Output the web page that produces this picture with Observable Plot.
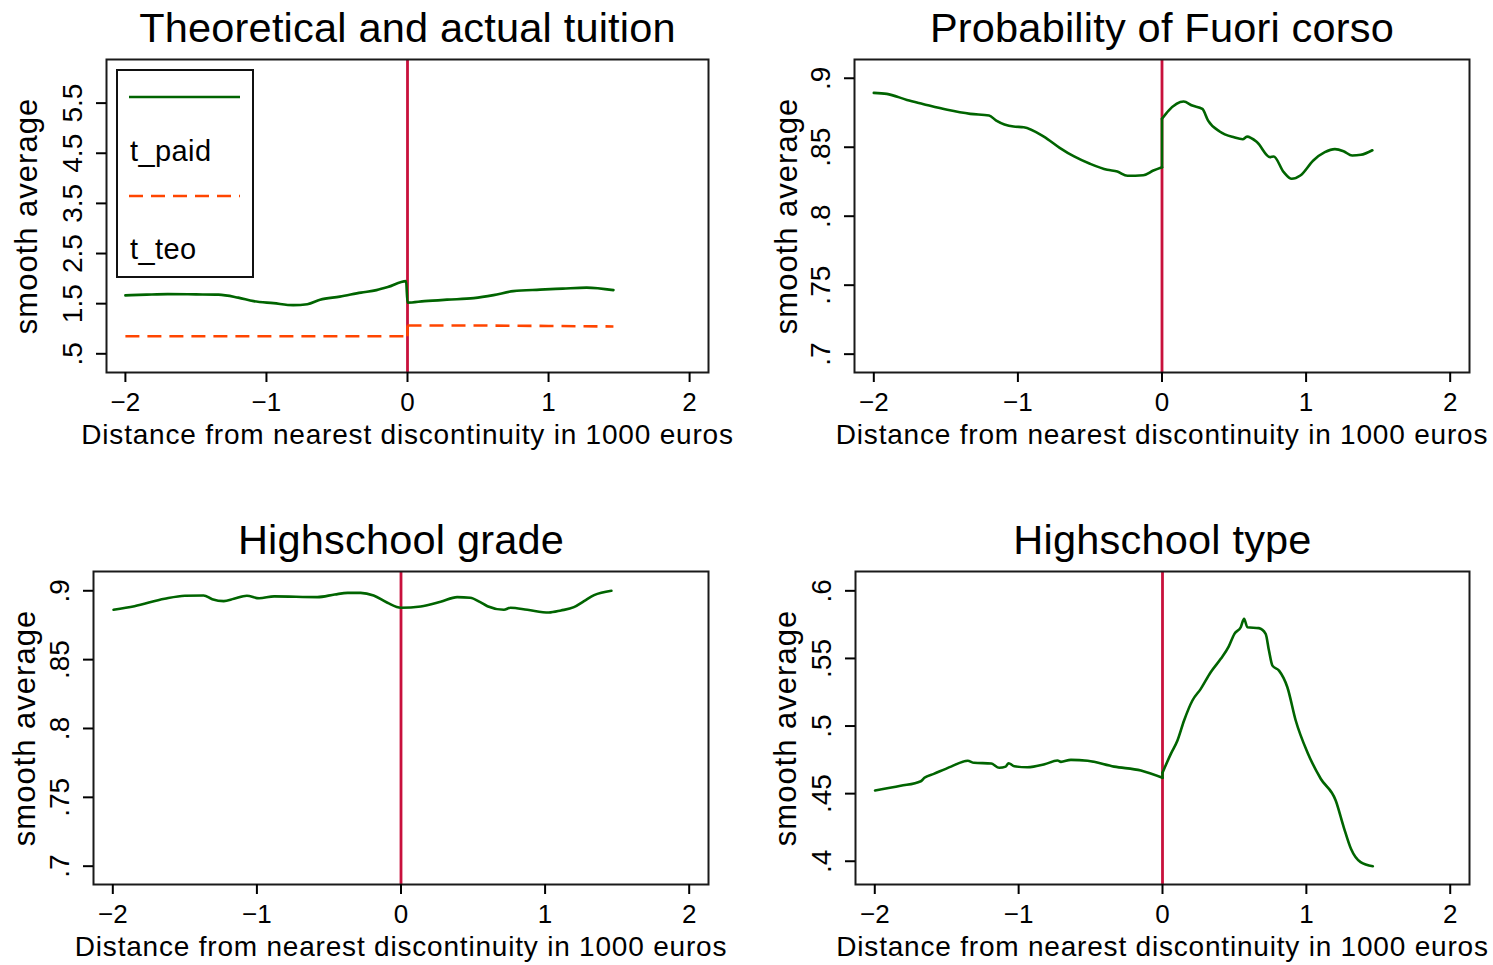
<!DOCTYPE html>
<html><head><meta charset="utf-8">
<script src="https://cdn.jsdelivr.net/npm/d3@7"></script>
<script src="https://cdn.jsdelivr.net/npm/@observablehq/plot@0.6"></script>
<style>
body{margin:0;background:#fff;font-family:"Liberation Sans",Arial,Helvetica,sans-serif;}
#root{position:relative;width:1493px;height:965px;overflow:hidden;background:#fff;}
.panel{position:absolute;}
.legend{position:absolute;box-sizing:border-box;border:2px solid #111;background:#fff;}
.legend span{position:absolute;font-size:29px;line-height:1;color:#000;letter-spacing:0.4px;}
</style></head><body><div id="root"></div>
<script>
// ---------- shared axis content ----------
const xTicks = [-2, -1, 0, 1, 2];
const xTickLabels = ["−2", "−1", "0", "1", "2"];
const xTitle = "Distance from nearest discontinuity in 1000 euros";
const yTitle = "smooth average";
const panelTitles = ["Theoretical and actual tuition", "Probability of Fuori corso", "Highschool grade", "Highschool type"];
const legendLabels = ["t_paid", "t_teo"];

// ---------- panel 1: tuition ----------
const tuitionYTicks = [0.5, 1.5, 2.5, 3.5, 4.5, 5.5];
const tuitionYTickLabels = [".5", "1.5", "2.5", "3.5", "4.5", "5.5"];
const paidX = [-2.0, -1.85, -1.70, -1.50, -1.34, -1.20, -1.09, -0.95, -0.81, -0.71, -0.62, -0.48, -0.33, -0.22, -0.14, -0.01, 0, 0.12, 0.28, 0.47, 0.61, 0.75, 0.94, 1.10, 1.27, 1.46];
const paidY = [1.666, 1.68, 1.69, 1.685, 1.68, 1.62, 1.55, 1.51, 1.47, 1.49, 1.58, 1.64, 1.72, 1.77, 1.83, 1.95, 1.52, 1.55, 1.58, 1.61, 1.67, 1.75, 1.78, 1.80, 1.82, 1.77];
const teoX = [-2.0, -1.0, 0, 0, 0.5, 1.0, 1.46];
const teoY = [0.85, 0.85, 0.85, 1.065, 1.065, 1.055, 1.045];

// ---------- panel 2: fuori corso ----------
const probYTicks = [0.7, 0.75, 0.8, 0.85, 0.9];
const probYTickLabels = [".7", ".75", ".8", ".85", ".9"];
const fuoriX = [-2.0, -1.91, -1.77, -1.66, -1.49, -1.33, -1.20, -1.15, -1.03, -0.96, -0.82, -0.71, -0.61, -0.50, -0.38, -0.31, -0.24, -0.13, -0.06, 0, 0, 0.046, 0.15, 0.21, 0.28, 0.32, 0.40, 0.50, 0.56, 0.59, 0.66, 0.75, 0.775, 0.845, 0.90, 0.96, 1.05, 1.13, 1.20, 1.26, 1.32, 1.38, 1.46];
const fuoriY = [0.8894, 0.8887, 0.8843, 0.8814, 0.8771, 0.8742, 0.873, 0.8693, 0.865, 0.8645, 0.8577, 0.8496, 0.8433, 0.838, 0.8336, 0.8324, 0.8293, 0.8297, 0.8331, 0.8355, 0.8706, 0.8766, 0.8831, 0.8802, 0.8778, 0.8693, 0.8614, 0.8572, 0.8558, 0.8577, 0.8536, 0.8428, 0.8433, 0.8319, 0.8271, 0.8295, 0.8404, 0.8464, 0.8486, 0.8471, 0.844, 0.8445, 0.8478];

// ---------- panel 3: highschool grade ----------
const gradeX = [-1.995, -1.85, -1.64, -1.50, -1.37, -1.31, -1.23, -1.16, -1.07, -0.985, -0.88, -0.58, -0.46, -0.37, -0.28, -0.19, -0.094, 0, 0.137, 0.275, 0.39, 0.48, 0.55, 0.60, 0.714, 0.76, 0.877, 1.026, 1.11, 1.20, 1.27, 1.34, 1.46];
const gradeY = [0.8862, 0.8888, 0.8942, 0.8964, 0.8966, 0.8939, 0.8925, 0.8942, 0.8964, 0.8946, 0.8959, 0.8954, 0.8973, 0.8985, 0.8985, 0.8966, 0.8913, 0.8877, 0.8886, 0.892, 0.8954, 0.8949, 0.8917, 0.8888, 0.8862, 0.8877, 0.8862, 0.8842, 0.8857, 0.8881, 0.8925, 0.8968, 0.90];

// ---------- panel 4: highschool type ----------
const typeYTicks = [0.4, 0.45, 0.5, 0.55, 0.6];
const typeYTickLabels = [".4", ".45", ".5", ".55", ".6"];
const typeX = [-1.998, -1.82, -1.68, -1.655, -1.59, -1.47, -1.354, -1.31, -1.19, -1.135, -1.09, -1.07, -1.03, -0.94, -0.82, -0.73, -0.706, -0.637, -0.52, -0.336, -0.15, 0, 0, 0.058, 0.104, 0.15, 0.208, 0.266, 0.335, 0.405, 0.46, 0.50, 0.544, 0.567, 0.59, 0.67, 0.717, 0.74, 0.764, 0.81, 0.868, 0.926, 1.007, 1.10, 1.204, 1.26, 1.31, 1.377, 1.462];
const typeY = [0.4523, 0.4558, 0.4592, 0.4617, 0.4646, 0.47, 0.4743, 0.4728, 0.4723, 0.4691, 0.47, 0.4725, 0.4703, 0.4695, 0.4717, 0.4745, 0.4735, 0.475, 0.4743, 0.47, 0.4671, 0.4617, 0.4655, 0.4794, 0.4893, 0.5041, 0.5189, 0.5275, 0.5398, 0.5497, 0.5588, 0.5682, 0.5731, 0.5793, 0.5731, 0.5724, 0.5682, 0.5558, 0.5447, 0.541, 0.5287, 0.5041, 0.4806, 0.461, 0.4449, 0.4251, 0.4092, 0.3993, 0.3963];

// ---------- styling ----------
const GREEN = "#006400";
const ORANGE = "#ff4500";
const RED = "#c8103c";
const FONT = "'Liberation Sans', Arial, Helvetica, sans-serif";
const xDomain = [-2.134, 2.134];

const zip = (xs, ys) => xs.map((x, i) => ({x, y: ys[i]}));

// split a series at a repeated x (the discontinuity) into smooth pieces + a jump connector
function seriesMarks(s) {
  const pts = zip(s.x, s.y);
  const cut = pts.findIndex((p, i) => i > 0 && p.x === pts[i - 1].x);
  const opts = {x: "x", y: "y", stroke: s.color, strokeWidth: 2.6, strokeDasharray: s.dash, strokeLinejoin: "round", strokeLinecap: s.dash ? "butt" : "round"};
  if (cut < 0) return [Plot.line(pts, {...opts, curve: s.dash ? "linear" : "monotone-x"})];
  const left = pts.slice(0, cut), right = pts.slice(cut);
  const curve = s.dash ? "linear" : "monotone-x";
  return [
    Plot.line(left, {...opts, curve}),
    Plot.line([pts[cut - 1], pts[cut]], {...opts, strokeDasharray: null}),
    Plot.line(right, {...opts, curve})
  ];
}

function makePanel(cfg) {
  const yLab = new Map(cfg.yTicks.map((t, i) => [t, cfg.yTickLabels[i]]));
  const xLab = new Map(xTicks.map((t, i) => [t, xTickLabels[i]]));
  const marks = [
    Plot.ruleX([0], {stroke: RED, strokeWidth: 2.8}),
    ...cfg.series.flatMap(seriesMarks),
    Plot.frame({stroke: "#1a1a1a", strokeWidth: 2}),
    Plot.axisX({ticks: xTicks, tickSize: 10, tickPadding: 10, tickFormat: d => xLab.get(d), fontSize: 26, strokeWidth: 2, label: null}),
    Plot.axisY({ticks: cfg.yTicks, tickSize: 10, tickPadding: 15, tickRotate: -90, tickFormat: d => yLab.get(d), fontSize: 28, strokeWidth: 2, label: null}),
    Plot.text([yTitle], {frameAnchor: "left", dx: cfg.yLabelDx, rotate: -90, textAnchor: "middle", lineAnchor: "bottom", fontSize: 31, text: d => d}),
    Plot.text([xTitle], {frameAnchor: "bottom", dy: 71, textAnchor: "middle", lineAnchor: "bottom", fontSize: 28, text: d => d}),
    Plot.text([cfg.title], {frameAnchor: "top", dy: -18, textAnchor: "middle", lineAnchor: "bottom", fontSize: 41.5, text: d => d})
  ];
  const svg = Plot.plot({
    width: cfg.width, height: cfg.height,
    marginLeft: cfg.ml, marginRight: cfg.mr, marginTop: cfg.mt, marginBottom: cfg.mb,
    x: {domain: xDomain},
    y: {domain: cfg.yDomain},
    style: {fontFamily: FONT, background: "transparent", overflow: "visible", color: "#000"},
    marks
  });
  // letter spacing to match the wider original typesetting
  d3.select(svg).selectAll("text").each(function() {
    const t = this.textContent;
    if (t === xTitle) this.setAttribute("letter-spacing", "0.8px");
    else if (t === yTitle) this.setAttribute("letter-spacing", "1px");
    else if (panelTitles.includes(t)) this.setAttribute("letter-spacing", "0.2px");
  });
  const div = document.createElement("div");
  div.className = "panel";
  div.style.left = cfg.left + "px";
  div.style.top = cfg.top + "px";
  div.appendChild(svg);
  document.getElementById("root").appendChild(div);
}

makePanel({left: 0, top: 0, width: 760, height: 460, ml: 106, mr: 52, mt: 59, mb: 88,
  yDomain: [0.127, 6.37], yTicks: tuitionYTicks, yTickLabels: tuitionYTickLabels, yLabelDx: -70,
  title: panelTitles[0],
  series: [{x: paidX, y: paidY, color: GREEN}, {x: teoX, y: teoY, color: ORANGE, dash: "14,8"}]});

makePanel({left: 760, top: 0, width: 733, height: 460, ml: 94, mr: 24, mt: 59, mb: 88,
  yDomain: [0.6867, 0.9136], yTicks: probYTicks, yTickLabels: probYTickLabels, yLabelDx: -58,
  title: panelTitles[1],
  series: [{x: fuoriX, y: fuoriY, color: GREEN}]});

makePanel({left: 0, top: 480, width: 760, height: 485, ml: 93, mr: 52, mt: 91, mb: 81,
  yDomain: [0.6867, 0.914], yTicks: probYTicks, yTickLabels: probYTickLabels, yLabelDx: -59,
  title: panelTitles[2],
  series: [{x: gradeX, y: gradeY, color: GREEN}]});

makePanel({left: 760, top: 480, width: 733, height: 485, ml: 95, mr: 24, mt: 91, mb: 81,
  yDomain: [0.3828, 0.6143], yTicks: typeYTicks, yTickLabels: typeYTickLabels, yLabelDx: -60,
  title: panelTitles[3],
  series: [{x: typeX, y: typeY, color: GREEN}]});

// ---------- legend (panel 1) ----------
const lg = document.createElement("div");
lg.className = "legend";
Object.assign(lg.style, {left: "116px", top: "69px", width: "138px", height: "209px"});
lg.innerHTML = `
<svg width="134" height="205" style="position:absolute;left:0;top:0">
  <line x1="11" x2="122" y1="26" y2="26" stroke="${GREEN}" stroke-width="2.6"/>
  <line x1="11" x2="122" y1="125" y2="125" stroke="${ORANGE}" stroke-width="2.6" stroke-dasharray="14,8"/>
</svg>
<span style="left:12px;top:66px">${legendLabels[0]}</span>
<span style="left:12px;top:164px">${legendLabels[1]}</span>`;
document.getElementById("root").appendChild(lg);
</script>
</body></html>
